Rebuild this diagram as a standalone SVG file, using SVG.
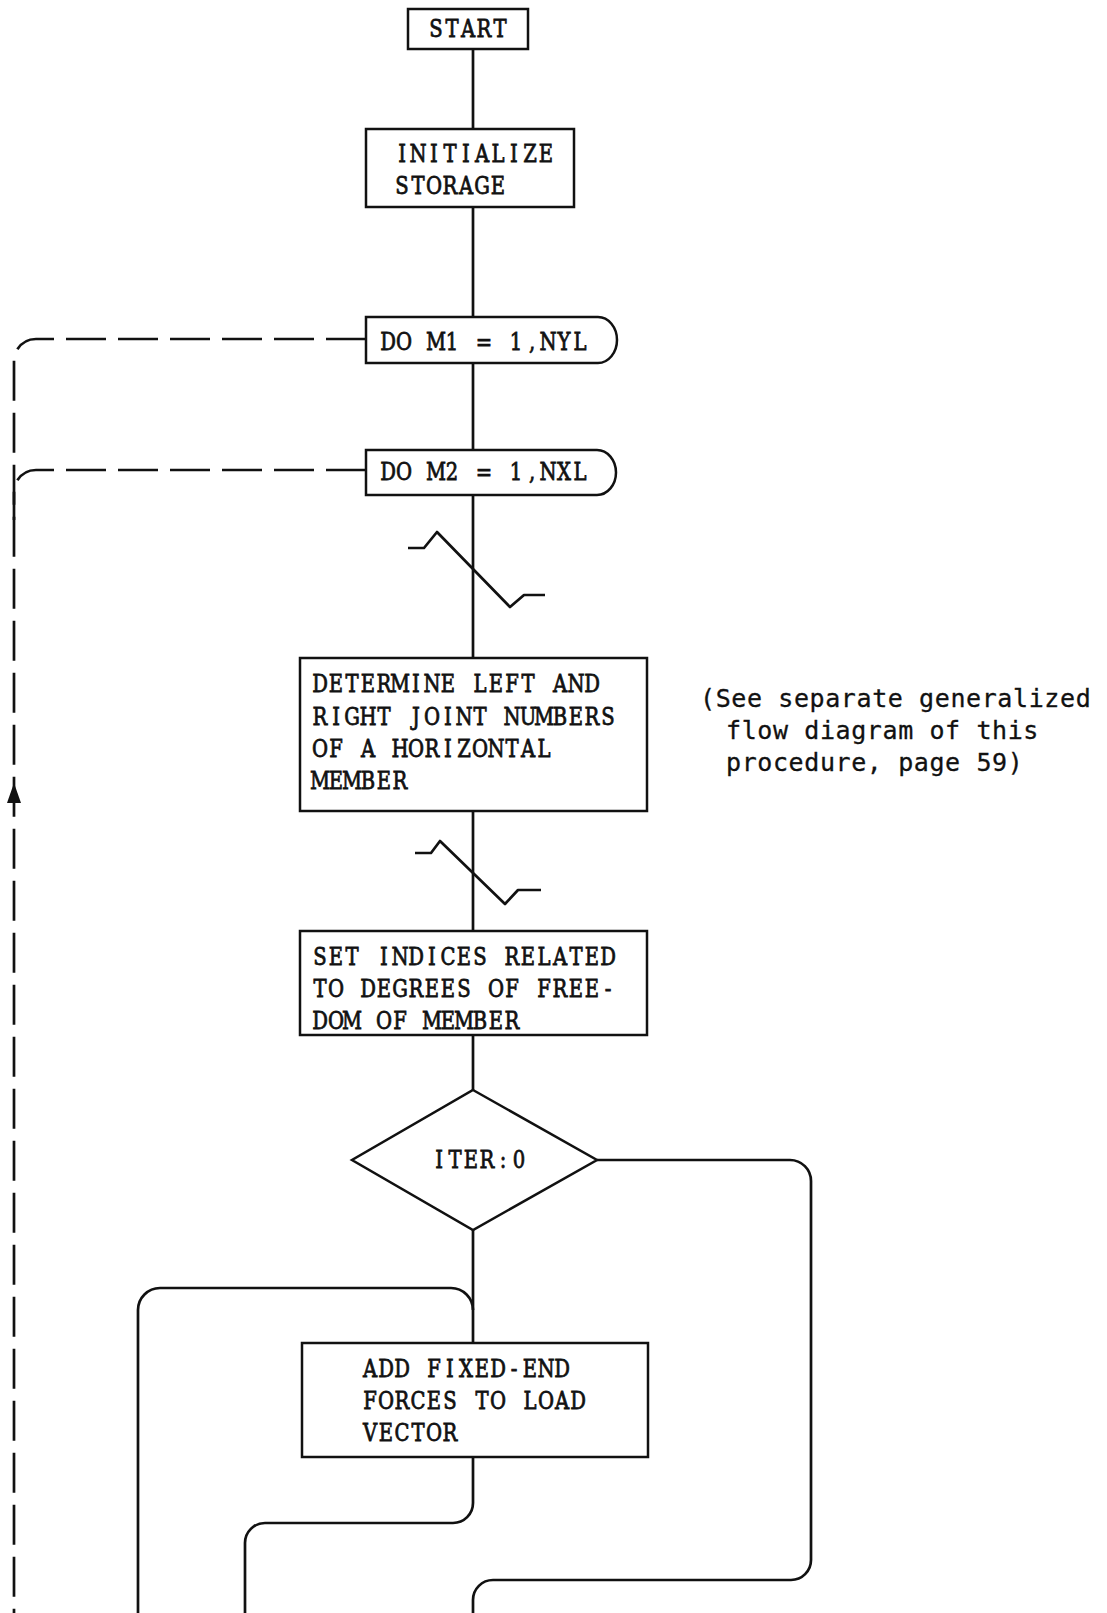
<svg xmlns="http://www.w3.org/2000/svg" width="1107" height="1613" viewBox="0 0 1107 1613">
<defs>
<style>
.bg{fill:#ffffff}
.box{fill:none;stroke:#111;stroke-width:2.5}
.ln{fill:none;stroke:#111;stroke-width:2.7;stroke-linejoin:round}
.dash{fill:none;stroke:#111;stroke-width:2.7;stroke-dasharray:40 12}
.t{font-family:"DejaVu Serif","Liberation Serif",serif;font-size:24.5px;text-anchor:middle;fill:#111;stroke:#111;stroke-width:0.8}
.n{font-family:"DejaVu Sans Mono","Liberation Mono",monospace;font-size:25px;letter-spacing:0.6px;fill:#111;stroke:#111;stroke-width:0.3}
</style>
</defs>
<rect class="bg" x="0" y="0" width="1107" height="1613"/>
<g id="connectors">
<line class="ln" x1="473" y1="49" x2="473" y2="129"/>
<line class="ln" x1="473" y1="207" x2="473" y2="317"/>
<line class="ln" x1="473" y1="363" x2="473" y2="450"/>
<line class="ln" x1="473" y1="495" x2="473" y2="658"/>
<line class="ln" x1="473" y1="811" x2="473" y2="931"/>
<line class="ln" x1="473" y1="1035" x2="473" y2="1090"/>
<line class="ln" x1="473" y1="1230" x2="473" y2="1343"/>
<polyline class="ln" points="408,548 424,548 437,532 510,607 524,595 545,595"/>
<polyline class="ln" points="415,853 431,853 440,841 505,904 518,890 541,890"/>
<path class="dash" d="M366,339 H36 A22,22 0 0 0 14,361 V1613"/>
<path class="dash" d="M366,470 H36 A22,22 0 0 0 14,492 V520"/>
<polygon points="14,783 7,803 21,803" fill="#111"/>
<path class="ln" d="M597,1160 H790 A21,21 0 0 1 811,1181 V1560 A20,20 0 0 1 791,1580 H493 A20,20 0 0 0 473,1600 V1613"/>
<path class="ln" d="M138,1613 V1310 A22,22 0 0 1 160,1288 H451 A22,22 0 0 1 473,1310"/>
<path class="ln" d="M473,1457 V1503 A20,20 0 0 1 453,1523 H265 A20,20 0 0 0 245,1543 V1613"/>
</g>
<g id="start">
<rect class="box" x="408" y="9" width="120" height="40"/>
<text class="t" transform="translate(428,37) scale(0.8,1)" x="10 30 50 70 90" y="0">START</text>
</g>
<g id="init">
<rect class="box" x="366" y="129" width="208" height="78"/>
<text class="t" transform="translate(394,162) scale(0.8,1)" x="10 30 50 70 90 110 130 150 170 190" y="0">INITIALIZE</text>
<text class="t" transform="translate(394,194) scale(0.8,1)" x="10 30 50 70 90 110 130" y="0">STORAGE</text>
</g>
<g id="do-m1">
<path class="box" d="M366,317 H598 A19,23 0 0 1 598,363 H366 Z"/>
<text class="t" transform="translate(380,350) scale(0.8,1)" x="10 30 50 70 90 110 130 150 170 190 210 230 250" y="0">DO M1 = 1,NYL</text>
</g>
<g id="do-m2">
<path class="box" d="M366,450 H597 A19,22.5 0 0 1 597,495 H366 Z"/>
<text class="t" transform="translate(380,480) scale(0.8,1)" x="10 30 50 70 90 110 130 150 170 190 210 230 250" y="0">DO M2 = 1,NXL</text>
</g>
<g id="determine">
<rect class="box" x="300" y="658" width="347" height="153"/>
<text class="t" transform="translate(312,692) scale(0.8,1)" x="10 30 50 70 90 110 130 150 170 190 210 230 250 270 290 310 330 350" y="0">DETERMINE LEFT AND</text>
<text class="t" transform="translate(312,725) scale(0.8,1)" x="10 30 50 70 90 110 130 150 170 190 210 230 250 270 290 310 330 350 370" y="0">RIGHT JOINT NUMBERS</text>
<text class="t" transform="translate(312,757) scale(0.8,1)" x="10 30 50 70 90 110 130 150 170 190 210 230 250 270 290" y="0">OF A HORIZONTAL</text>
<text class="t" transform="translate(312,789) scale(0.8,1)" x="10 30 50 70 90 110" y="0">MEMBER</text>
</g>
<g id="note">
<text class="n" x="700" y="707">(See separate generalized</text>
<text class="n" x="726" y="739">flow diagram of this</text>
<text class="n" x="726" y="771">procedure, page 59)</text>
</g>
<g id="set-indices">
<rect class="box" x="300" y="931" width="347" height="104"/>
<text class="t" transform="translate(312,965) scale(0.8,1)" x="10 30 50 70 90 110 130 150 170 190 210 230 250 270 290 310 330 350 370" y="0">SET INDICES RELATED</text>
<text class="t" transform="translate(312,997) scale(0.8,1)" x="10 30 50 70 90 110 130 150 170 190 210 230 250 270 290 310 330 350 370" y="0">TO DEGREES OF FREE-</text>
<text class="t" transform="translate(312,1029) scale(0.8,1)" x="10 30 50 70 90 110 130 150 170 190 210 230 250" y="0">DOM OF MEMBER</text>
</g>
<g id="iter">
<polygon class="box" points="473,1090 597,1160 473,1230 352,1160"/>
<text class="t" transform="translate(431,1168) scale(0.8,1)" x="10 30 50 70 90 110" y="0">ITER:0</text>
</g>
<g id="add-fixed">
<rect class="box" x="302" y="1343" width="346" height="114"/>
<text class="t" transform="translate(362,1377) scale(0.8,1)" x="10 30 50 70 90 110 130 150 170 190 210 230 250" y="0">ADD FIXED-END</text>
<text class="t" transform="translate(362,1409) scale(0.8,1)" x="10 30 50 70 90 110 130 150 170 190 210 230 250 270" y="0">FORCES TO LOAD</text>
<text class="t" transform="translate(362,1441) scale(0.8,1)" x="10 30 50 70 90 110" y="0">VECTOR</text>
</g>
</svg>
